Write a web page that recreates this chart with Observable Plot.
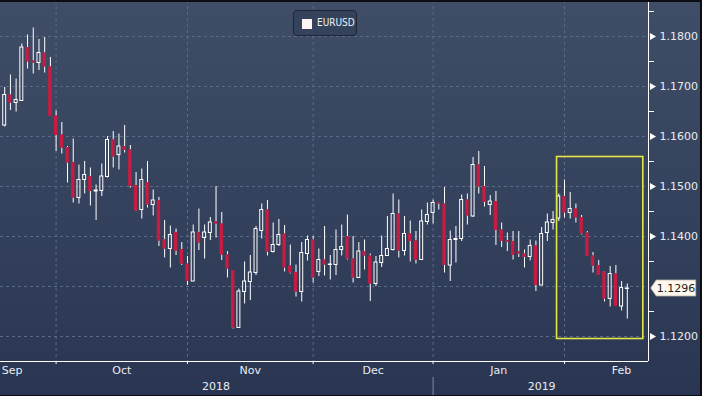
<!DOCTYPE html>
<html><head><meta charset="utf-8">
<script src="https://cdn.jsdelivr.net/npm/d3@7"></script>
<script src="https://cdn.jsdelivr.net/npm/@observablehq/plot@0.6"></script>
<style>
html,body{margin:0;padding:0;background:#2b3854;}
#wrap{position:relative;width:702px;height:396px;overflow:hidden;}
#wrap svg{display:block;}
#legend{position:absolute;left:293px;top:10px;width:62px;height:24px;border:1px solid #1c2535;border-radius:4px;background:#35425b;box-sizing:content-box;}
#legend .sw{position:absolute;left:8px;top:8px;width:10px;height:10px;background:#fff4f4;}
#legend .lb{position:absolute;left:23px;top:5px;font:10px "Liberation Sans Narrow","DejaVu Sans Condensed","Liberation Sans",sans-serif;font-stretch:condensed;color:#eef1f6;line-height:14px;}
#border{position:absolute;left:0;top:0;width:702px;height:396px;box-sizing:border-box;border-top:2px solid #0b0d12;border-right:2px solid #0b0d12;border-bottom:1px solid #0b0d12;pointer-events:none;}
</style>
</head><body>
<div id="wrap"><div id="chart"></div><div id="legend"><div class="sw"></div><div class="lb">EURUSD</div></div><div id="border"></div></div>
<script>
// Daily EURUSD candles, 18 Sep 2018 .. 18 Feb 2019 (trading-day index)
const opens = [1.1622,1.1683,1.1667,1.1671,1.1778,1.1751,1.1747,1.1767,1.1739,1.1641,
1.1603,1.1578,1.1548,1.1477,1.1513,1.1520,1.1490,1.1491,1.1519,1.1593,
1.1563,1.1580,1.1573,1.1502,1.1453,1.1508,1.1463,1.1472,1.1393,1.1375,
1.1408,1.1374,1.1345,1.1310,1.1408,1.1397,1.1407,1.1429,1.1425,1.1363,
1.1332,1.1217,1.1289,1.1309,1.1327,1.1411,1.1453,1.1369,1.1383,1.1405,
1.1341,1.1328,1.1289,1.1365,1.1393,1.1329,1.1353,1.1343,1.1343,1.1373,
1.1400,1.1355,1.1317,1.1370,1.1361,1.1305,1.1347,1.1361,1.1373,1.1445,
1.1371,1.1405,1.1391,1.1353,1.1429,1.1447,1.1468,1.1465,1.1342,1.1393,
1.1395,1.1473,1.1440,1.1543,1.1500,1.1463,1.1470,1.1413,1.1392,1.1390,
1.1370,1.1365,1.1359,1.1381,1.1302,1.1407,1.1427,1.1436,1.1480,1.1447,
1.1455,1.1438,1.1407,1.1361,1.1342,1.1329,1.1275,1.1325,1.1260,1.1295];
const highs = [1.1698,1.1723,1.1715,1.1785,1.1803,1.1817,1.1794,1.1798,1.1758,1.1651,
1.1628,1.1580,1.1595,1.1543,1.1550,1.1537,1.1503,1.1545,1.1600,1.1610,
1.1605,1.1622,1.1582,1.1528,1.1535,1.1550,1.1493,1.1478,1.1432,1.1421,
1.1415,1.1388,1.1360,1.1423,1.1455,1.1423,1.1438,1.1500,1.1448,1.1370,
1.1332,1.1295,1.1349,1.1362,1.1420,1.1465,1.1472,1.1427,1.1434,1.1422,
1.1383,1.1343,1.1388,1.1401,1.1400,1.1375,1.1420,1.1362,1.1413,1.1423,
1.1443,1.1400,1.1388,1.1393,1.1365,1.1360,1.1401,1.1440,1.1485,1.1473,
1.1440,1.1431,1.1410,1.1453,1.1467,1.1473,1.1468,1.1498,1.1411,1.1420,
1.1483,1.1485,1.1558,1.1570,1.1540,1.1482,1.1490,1.1427,1.1407,1.1410,
1.1410,1.1373,1.1393,1.1391,1.1418,1.1445,1.1450,1.1485,1.1513,1.1488,
1.1465,1.1442,1.1410,1.1368,1.1352,1.1330,1.1340,1.1342,1.1310,1.1305];
const lows = [1.1619,1.1652,1.1649,1.1670,1.1735,1.1725,1.1732,1.1727,1.1640,1.1570,
1.1565,1.1507,1.1467,1.1465,1.1485,1.1461,1.1432,1.1480,1.1517,1.1537,
1.1533,1.1567,1.1497,1.1450,1.1435,1.1457,1.1441,1.1380,1.1357,1.1337,
1.1362,1.1342,1.1302,1.1310,1.1372,1.1355,1.1392,1.1397,1.1352,1.1317,
1.1215,1.1217,1.1265,1.1272,1.1322,1.1395,1.1361,1.1367,1.1380,1.1329,
1.1325,1.1279,1.1269,1.1351,1.1307,1.1320,1.1321,1.1313,1.1322,1.1361,
1.1353,1.1307,1.1317,1.1333,1.1270,1.1300,1.1338,1.1360,1.1371,1.1357,
1.1361,1.1349,1.1345,1.1353,1.1423,1.1425,1.1453,1.1327,1.1310,1.1347,
1.1390,1.1423,1.1438,1.1485,1.1459,1.1442,1.1382,1.1378,1.1370,1.1353,
1.1358,1.1337,1.1351,1.1290,1.1302,1.1390,1.1413,1.1430,1.1437,1.1435,
1.1427,1.1403,1.1360,1.1327,1.1322,1.1269,1.1259,1.1260,1.1251,1.1235];
const closes = [1.1683,1.1667,1.1673,1.1778,1.1749,1.1747,1.1767,1.1739,1.1640,1.1602,
1.1577,1.1547,1.1477,1.1513,1.1523,1.1490,1.1492,1.1520,1.1593,1.1559,
1.1580,1.1572,1.1500,1.1451,1.1513,1.1463,1.1472,1.1391,1.1375,1.1403,
1.1371,1.1345,1.1310,1.1408,1.1387,1.1408,1.1428,1.1425,1.1363,1.1335,
1.1217,1.1290,1.1310,1.1328,1.1415,1.1453,1.1369,1.1383,1.1403,1.1337,
1.1327,1.1289,1.1367,1.1393,1.1317,1.1353,1.1343,1.1344,1.1373,1.1379,
1.1355,1.1317,1.1370,1.1361,1.1305,1.1348,1.1361,1.1375,1.1445,1.1371,
1.1405,1.1390,1.1353,1.1430,1.1443,1.1467,1.1465,1.1342,1.1393,1.1395,
1.1473,1.1441,1.1543,1.1499,1.1468,1.1470,1.1412,1.1390,1.1388,1.1362,
1.1365,1.1358,1.1381,1.1302,1.1405,1.1428,1.1433,1.1480,1.1447,1.1455,
1.1437,1.1405,1.1360,1.1341,1.1322,1.1275,1.1325,1.1260,1.1297,1.1296];

const monthStartIdx = [9, 32, 54, 75, 98];          // Oct 1, Nov 1, Dec 3, Jan 1, Feb 1
const monthLabels = ["Sep", "Oct", "Nov", "Dec", "Jan", "Feb"];
const monthLabelIdx = [1.3, 20.5, 43, 64.5, 86.5, 108];
const yearLabels = ["2018", "2019"];
const yearLabelIdx = [37, 94];
const yearBreakIdx = [75];
const priceLevels = [1.12, 1.13, 1.14, 1.15, 1.16, 1.17, 1.18];
const minorLevels = [1.125, 1.135, 1.145, 1.155, 1.165, 1.175, 1.185];
const lastPrice = 1.1296;
const highlight = {x1: 96.7, x2: 111.8, y1: 1.1195, y2: 1.1559};

const xDomain = [-0.735, 112.71];
const yDomain = [1.115, 1.1872];
const yBelow = [1.1118, 1.108];

const candles = opens.map((o, i) => ({i, open: o, high: highs[i], low: lows[i], close: closes[i]}));
const up = candles.filter(d => d.close >= d.open);
const down = candles.filter(d => d.close < d.open);
const RED = "#c81b42", GRID = "#5a6b87", YEL = "#e4e644";
const labeled = priceLevels.filter(p => Math.abs(p - lastPrice) > 0.003);

const plot = Plot.plot({
  width: 702, height: 396,
  marginLeft: 0, marginRight: 54, marginTop: 0, marginBottom: 35,
  x: {type: "linear", domain: xDomain},
  y: {type: "linear", domain: yDomain},
  style: {background: "linear-gradient(to bottom, #404d67 0%, #34415c 55%, #2a3651 100%)", fontFamily: "DejaVu Sans", fontSize: "11px", color: "#e8ecf2"},
  marks: [
    Plot.gridY(priceLevels, {stroke: GRID, strokeOpacity: 1, strokeDasharray: "3,3"}),
    Plot.gridX(monthStartIdx, {stroke: GRID, strokeOpacity: 1, strokeDasharray: "3,3"}),
    Plot.ruleX(candles, {x: "i", y1: "low", y2: d => Math.min(d.open, d.close), stroke: "white"}),
    Plot.ruleX(candles, {x: "i", y1: d => Math.max(d.open, d.close), y2: "high", stroke: "white"}),
    Plot.rect(down, {x1: d => d.i - 0.3, x2: d => d.i + 0.3, y1: "open", y2: "close", fill: RED}),
    Plot.rect(up, {x1: d => d.i - 0.26, x2: d => d.i + 0.26, y1: "open", y2: "close", fill: "none", stroke: "white", strokeWidth: 1}),
    Plot.rect([highlight], {x1: "x1", x2: "x2", y1: "y1", y2: "y2", fill: "none", stroke: YEL, strokeWidth: 1.6}),
    Plot.ruleX([xDomain[1]], {stroke: "white"}),
    Plot.ruleY([yDomain[0]], {stroke: "white"}),
    Plot.axisY(labeled, {anchor: "right", tickSize: 0, tickPadding: 11, tickFormat: d => d.toFixed(4), label: null, fill: "#e8ecf2"}),
    Plot.axisY(minorLevels, {anchor: "right", tickSize: 5, tickFormat: () => "", label: null, stroke: "white"}),
    Plot.dot(labeled, {x: () => xDomain[1], y: d => d, symbol: "triangle", rotate: 90, r: 2.6, fill: "white", dx: 3.5}),
    Plot.axisX(monthStartIdx, {tickSize: 3, tickFormat: () => "", label: null, stroke: "white"}),
    Plot.text(monthLabels, {x: (d, i) => monthLabelIdx[i], y: () => yDomain[0], dy: 9, fill: "#e8ecf2", text: d => d}),
    Plot.text(yearLabels, {x: (d, i) => yearLabelIdx[i], y: () => yDomain[0], dy: 25, fill: "#e8ecf2", text: d => d}),
    Plot.ruleX(yearBreakIdx, {y1: () => yBelow[0], y2: () => yBelow[1], stroke: "#7f8ca3"})
  ]
});
document.getElementById("chart").appendChild(plot);

// last-price callout, positioned through the plot's scales
const sx = plot.scale("x"), sy = plot.scale("y");
const cy = sy.apply(lastPrice), cx = sx.apply(xDomain[1]) + 2.7;
const g = d3.select(plot).append("g");
g.append("path")
  .attr("d", `M${cx},${cy}L${cx + 5.5},${cy - 8}H${cx + 45}V${cy + 8}H${cx + 5.5}Z`)
  .attr("fill", "#fff8ee").attr("stroke", "#b9b3a8").attr("stroke-width", 0.8);
g.append("text").attr("x", cx + 6).attr("y", cy).attr("dy", "0.35em")
  .attr("text-anchor", "start")
  .attr("fill", "#1b1b1b").attr("font-family", "DejaVu Sans").attr("font-size", 11)
  .text(lastPrice.toFixed(4));
</script>
</body></html>
